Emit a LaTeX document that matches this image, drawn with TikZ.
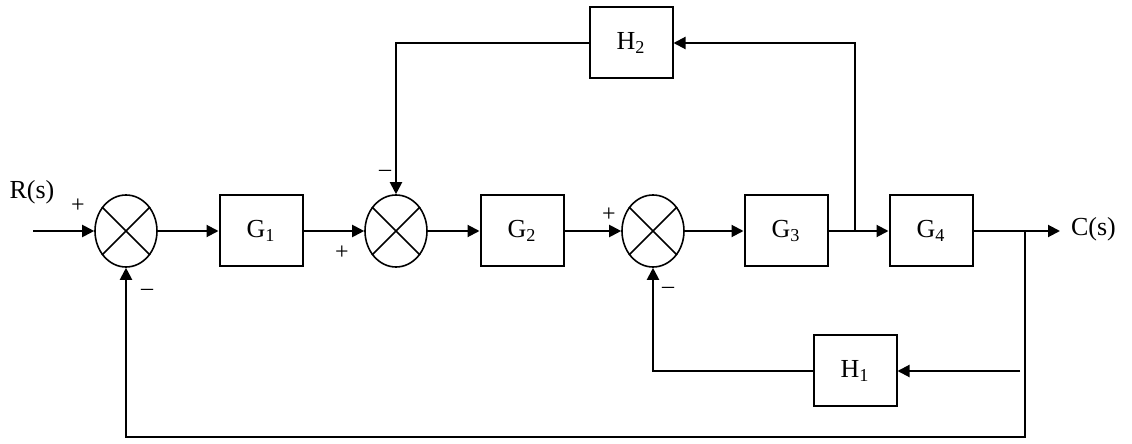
\documentclass[tikz,border=0pt]{standalone}
\usepackage{fontspec}
\setmainfont{Liberation Serif}
\usetikzlibrary{arrows.meta,positioning,calc,shapes.geometric}

\begin{document}
\begin{tikzpicture}[
  x=0.5pt,y=-0.5pt,
  every node/.style={font=\fontsize{13}{15}\selectfont},
  block/.style={draw,line width=1pt,minimum width=41.5pt,minimum height=35.5pt,inner sep=0pt},
  summer/.style={draw,ellipse,line width=0.8pt,minimum width=31pt,minimum height=36pt,inner sep=0pt},
  sig/.style={line width=1pt,-{Triangle[length=6pt,width=6pt]}},
  sign/.style={font=\fontsize{12}{14}\selectfont,inner sep=0pt}
]
\useasboundingbox (0,0) rectangle (1132,444);

% forward path
\node[summer] (s1) at (126,231) {};
\node[block] (g1) at (261,231) {G\textsubscript{1}};
\node[summer] (s2) at (396,231) {};
\node[block] (g2) at (522,231) {G\textsubscript{2}};
\node[summer] (s3) at (653,231) {};
\node[block] (g3) at (786,231) {G\textsubscript{3}};
\node[block] (g4) at (931,231) {G\textsubscript{4}};

% feedback blocks
\node[block] (h2) at (631,43) {H\textsubscript{2}};
\node[block] (h1) at (855,371) {H\textsubscript{1}};

% signals
\node (rs) at (32,192) {R(s)};
\node[anchor=west] (cs) at (1064,229) {C(s)};
\coordinate (in) at (33,231);
\coordinate (pick2) at (855,231);
\coordinate (pick1) at (1025,231);
\coordinate (out) at (1060,231);
\coordinate (h1in) at (1020,371);
\coordinate (bot) at (1025,437);

\foreach \s in {s1,s2,s3}
  \draw[line width=0.8pt] (\s.45) -- (\s.225) (\s.135) -- (\s.315);

\draw[sig] (in) -- (s1);
\draw[sig] (s1) -- (g1);
\draw[sig] (g1) -- (s2);
\draw[sig] (s2) -- (g2);
\draw[sig] (g2) -- (s3);
\draw[sig] (s3) -- (g3);
\draw[sig] (g3) -- (g4);
\draw[sig] (g4) -- (out);
\draw[sig] (pick2) |- (h2);
\draw[sig] (h2) -| (s2);
\draw[sig] (h1in) -- (h1);
\draw[sig] (h1) -| (s3);
\draw[sig] (pick1) -- (bot) -| (s1);

% signs
\node[sign] (p1) at (78,206) {+};
\node[sign] (m1) at (147,292) {–};
\node[sign] (m2) at (385,173) {–};
\node[sign] (p2) at (342,253) {+};
\node[sign] (p3) at (609,215) {+};
\node[sign] (m3) at (668,290) {–};
\end{tikzpicture}
\end{document}
